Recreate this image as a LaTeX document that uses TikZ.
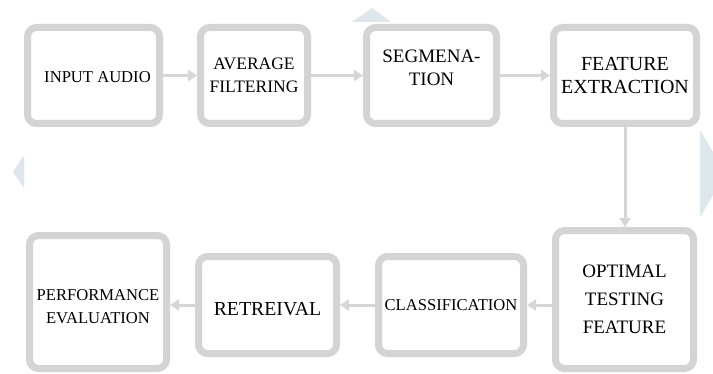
\documentclass[tikz,border=0pt]{standalone}
\usepackage{fontspec}
\setmainfont{Liberation Serif}
\newfontfamily\tnr{Liberation Serif}
\usetikzlibrary{arrows.meta}
\definecolor{boxgray}{RGB}{212,212,212}
\definecolor{arrowgray}{RGB}{214,214,214}
\definecolor{marktint}{RGB}{221,231,236}
\tikzset{
  blk/.style={draw=boxgray, line width=7pt, rounded corners=9pt, fill=white,
    align=center, inner sep=0pt, text=black},
  flow/.style={draw=arrowgray, line width=3pt,
    -{Triangle[length=9pt,width=11pt]}},
}
% text moved up or down inside its box, box size kept
\newcommand{\nudge}[2]{\raisebox{#1}[\height][\depth]{\begin{tabular}{@{}c@{}}#2\end{tabular}}}
\begin{document}
\begin{tikzpicture}[x=1pt,y=1pt]
        \useasboundingbox (0,0) rectangle (713,373);
        \fill[white] (0,0) rectangle (713,373);

        % Background marks
        \fill[marktint] (352,351) -- (372,365) -- (391,351) -- cycle;
        \fill[marktint] (700,243) -- (713,221) -- (713,178) -- (700,156) -- cycle;
        \fill[marktint] (24,218) -- (13,201) -- (24,185) -- cycle;

        % Top row
        \node[blk, minimum width=132pt, minimum height=96pt,
          font=\tnr\fontsize{16.6}{23}\selectfont] (input) at (93.5,297.5) {\nudge{-2pt}{\hspace*{8pt}INPUT AUDIO}};
        \node[blk, minimum width=107pt, minimum height=96pt,
          font=\tnr\fontsize{17.5}{23}\selectfont] (avg) at (254,297.5) {AVERAGE\\FILTERING};
        \node[blk, minimum width=130pt, minimum height=96pt,
          font=\tnr\fontsize{19}{23}\selectfont] (seg) at (431.5,297.5) {\nudge{6pt}{SEGMENA-\\TION}};
        \node[blk, minimum width=143pt, minimum height=96pt,
          font=\tnr\fontsize{20}{23}\selectfont] (feat) at (625,297.5) {FEATURE\\EXTRACTION};

        % Bottom row
        \node[blk, minimum width=138pt, minimum height=138pt,
          font=\tnr\fontsize{19}{28}\selectfont] (opt) at (624.5,73.5) {OPTIMAL\\TESTING\\FEATURE};
        \node[blk, minimum width=145pt, minimum height=97pt,
          font=\tnr\fontsize{16.6}{23}\selectfont] (cls) at (451,68) {CLASSIFICATION};
        \node[blk, minimum width=138pt, minimum height=97pt,
          font=\tnr\fontsize{19.8}{23}\selectfont] (retr) at (267.5,68) {\nudge{-6pt}{RETREIVAL}};
        \node[blk, minimum width=137pt, minimum height=133pt,
          font=\tnr\fontsize{16.6}{23}\selectfont] (perf) at (98,71) {\nudge{-5pt}{PERFORMANCE\\EVALUATION}};

        % Connectors
        \draw[flow] (input) -- (avg);
        \draw[flow] (avg) -- (seg);
        \draw[flow] (seg) -- (feat);
        \draw[flow] (feat.south) -- (feat.south |- opt.north);
        \draw[flow] (opt.west |- cls) -- (cls);
        \draw[flow] (cls) -- (retr);
        \draw[flow] (retr) -- (perf.east |- retr);
    \end{tikzpicture}
\end{document}
